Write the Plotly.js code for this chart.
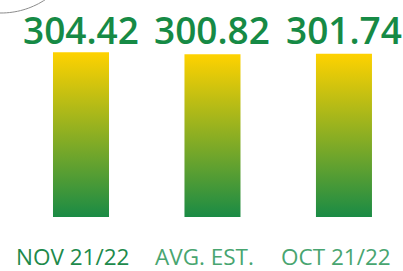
<!DOCTYPE html>
<html>
<head>
<meta charset="utf-8">
<script src="https://cdn.plot.ly/plotly-3.0.1.min.js"></script>
<style>html,body{margin:0;padding:0;background:#fff;}#chart{width:403px;height:271px;}</style>
</head>
<body>
<div id="chart"></div>
<script>
const categories = ["NOV 21/22", "AVG. EST.", "OCT 21/22"];
const values = [304.42, 300.82, 301.74];
const valueLabels = ["304.42", "300.82", "301.74"];

const labelColors = ["#1d8a4b", "#48a570", "#48a570"];
const barHalfWidth = 0.213;

const traces = values.map((v, i) => ({
  type: "scatter",
  mode: "lines",
  x: [i - barHalfWidth, i + barHalfWidth, i + barHalfWidth, i - barHalfWidth, i - barHalfWidth],
  y: [0, 0, v, v, 0],
  fill: "toself",
  line: {width: 0, color: "rgba(0,0,0,0)"},
  fillgradient: {
    type: "vertical",
    colorscale: [[0, "#1a8b45"], [1, "#ffd200"]]
  },
  hoverinfo: "skip",
  showlegend: false
}));

const annotations = [];
values.forEach((v, i) => {
  annotations.push({
    x: i, xref: "x", y: 0.736, yref: "paper",
    yanchor: "bottom", xanchor: "center",
    text: valueLabels[i], showarrow: false,
    font: {family: "Open Sans", size: 37, weight: 600, color: "#168a45"}
  });
  annotations.push({
    x: i, xref: "x", y: 0, yref: "paper", yshift: -23,
    xshift: -8,
    yanchor: "top", xanchor: "center",
    borderpad: 0,
    text: categories[i], showarrow: false,
    font: {family: "Open Sans", size: 22.5, color: labelColors[i]}
  });
});

// decorative arc in the top-left corner (page pixels -> paper coords)
const W = 403, plotH = 217;
let pathStr = "";
let k = 0;
for (let a = 40; a <= 110; a += 2, k++) {
  const t = a * Math.PI / 180;
  const px = 1 + 80 * Math.cos(t);
  const py = -67 + 80 * Math.sin(t);
  const xp = (px / W).toFixed(4), yp = ((plotH - py) / plotH).toFixed(4);
  pathStr += (k === 0 ? "M " : " L ") + xp + "," + yp;
}

const layout = {
  width: 403, height: 271,
  margin: {l: 0, r: 0, t: 0, b: 54, pad: 0},
  paper_bgcolor: "#ffffff", plot_bgcolor: "#ffffff",
  showlegend: false,
  xaxis: {range: [-0.616, 2.449], showgrid: false, zeroline: false, showticklabels: false, showline: false, fixedrange: true},
  yaxis: {range: [0, 401], showgrid: false, zeroline: false, showticklabels: false, showline: false, fixedrange: true},
  annotations: annotations,
  shapes: [{
    type: "path", xref: "paper", yref: "paper",
    path: pathStr,
    line: {color: "#8c8c8c", width: 1}
  }]
};

Plotly.newPlot("chart", traces, layout, {displayModeBar: false, staticPlot: true});
</script>
</body>
</html>
